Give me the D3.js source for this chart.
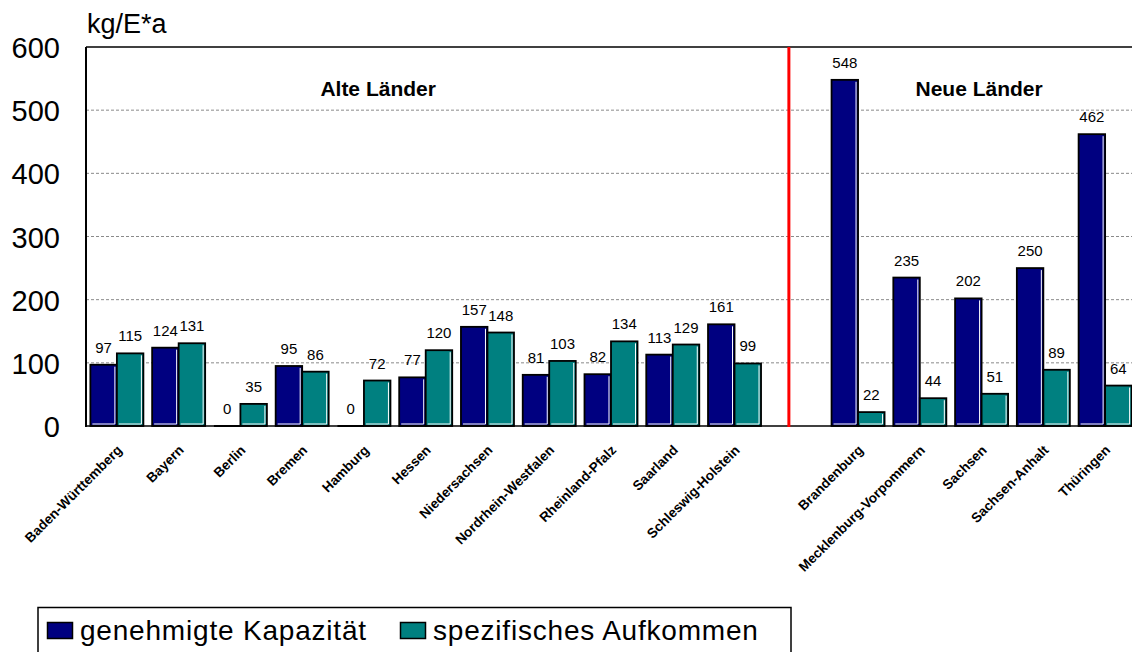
<!DOCTYPE html>
<html>
<head>
    <script src="https://cdn.jsdelivr.net/npm/d3@7"></script>
    <style>
        body { margin: 0; background: #fff; }
        #chart { width: 1132px; height: 652px; display: block; }
        text { font-family: "Liberation Sans", Arial, sans-serif; }
    </style>
</head>
<body>

<svg id="chart"></svg>

<script>
    // data
    const categories = ["Baden-Württemberg", "Bayern", "Berlin", "Bremen", "Hamburg", "Hessen",
        "Niedersachsen", "Nordrhein-Westfalen", "Rheinland-Pfalz", "Saarland", "Schleswig-Holstein",
        "", "Brandenburg", "Mecklenburg-Vorpommern", "Sachsen", "Sachsen-Anhalt", "Thüringen"];
    const kapazitaet = [97, 124, 0, 95, 0, 77, 157, 81, 82, 113, 161, null, 548, 235, 202, 250, 462];
    const aufkommen = [115, 131, 35, 86, 72, 120, 148, 103, 134, 129, 99, null, 22, 44, 51, 89, 64];
    const yTicks = [0, 100, 200, 300, 400, 500, 600];
    const seriesNames = ["genehmigte Kapazität", "spezifisches Aufkommen"];
    const seriesColors = ["#000080", "#008080"];

    const svg = d3.select("#chart");
    const plotLeft = 86, plotTop = 47, plotBottom = 426, plotRight = 1136;

    // keys for band scale (gap slot needs its own key)
    const keys = categories.map((c, i) => c === "" ? "gap" + i : c);

    const x = d3.scaleBand().domain(keys).range([plotLeft, plotRight]).padding(0);
    const xs = d3.scaleBand().domain([0, 1]).range([0, x.bandwidth()]).paddingInner(0).paddingOuter(0.165);
    const y = d3.scaleLinear().domain([0, 600]).range([plotBottom, plotTop]);

    // gridlines
    svg.append("g").selectAll("line")
        .data(yTicks.filter(d => d > 0 && d < 600))
        .join("line")
        .attr("x1", plotLeft).attr("x2", 1132)
        .attr("y1", d => y(d)).attr("y2", d => y(d))
        .attr("stroke", "#8a8a8a")
        .attr("stroke-width", 1)
        .attr("stroke-dasharray", "3,2");

    // frame: top and left
    svg.append("line").attr("x1", plotLeft).attr("x2", 1132).attr("y1", y(600)).attr("y2", y(600))
        .attr("stroke", "#000").attr("stroke-width", 1.5);
    svg.append("line").attr("x1", plotLeft).attr("x2", plotLeft).attr("y1", y(600)).attr("y2", y(0) + 1)
        .attr("stroke", "#000").attr("stroke-width", 2);

    // y tick labels
    svg.append("g").selectAll("text")
        .data(yTicks)
        .join("text")
        .attr("x", 60)
        .attr("y", d => y(d) + 11)
        .attr("text-anchor", "end")
        .attr("font-size", 29)
        .text(d => d);

    svg.append("text")
        .attr("x", 87).attr("y", 33)
        .attr("font-size", 27)
        .text("kg/E*a");

    // bars
    const rows = [];
    categories.forEach((c, i) => {
        [kapazitaet[i], aufkommen[i]].forEach((v, s) => {
            if (v !== null) rows.push({ key: keys[i], s: s, v: v });
        });
    });

    const bars = svg.append("g").selectAll("g")
        .data(rows)
        .join("g")
        .attr("transform", d => `translate(${x(d.key) + xs(d.s)},0)`);

    bars.filter(d => d.v > 0).append("rect")
        .attr("x", 0)
        .attr("y", d => y(d.v))
        .attr("width", xs.bandwidth())
        .attr("height", d => y(0) - y(d.v))
        .attr("fill", d => seriesColors[d.s])
        .attr("stroke", "#000")
        .attr("stroke-width", 1.8);

    // little white highlight inside the right and bottom edge
    bars.filter(d => d.v > 0).append("polyline")
        .attr("points", d => {
            const w = xs.bandwidth();
            return `${w - 2},${y(d.v) + 2} ${w - 2},${y(0) - 2} 2,${y(0) - 2}`;
        })
        .attr("fill", "none")
        .attr("stroke", "#fff")
        .attr("stroke-width", 1);

    bars.filter(d => d.v === 0).append("line")
        .attr("x1", 0).attr("x2", xs.bandwidth())
        .attr("y1", y(0)).attr("y2", y(0))
        .attr("stroke", "#000").attr("stroke-width", 2);

    bars.append("text")
        .attr("x", xs.bandwidth() / 2)
        .attr("y", d => y(d.v) - 12)
        .attr("text-anchor", "middle")
        .attr("font-size", 15)
        .text(d => d.v);

    // baseline
    svg.append("line").attr("x1", plotLeft).attr("x2", 1132).attr("y1", y(0)).attr("y2", y(0))
        .attr("stroke", "#000").attr("stroke-width", 1.5);

    // separator between old and new Länder
    const gapKey = keys[categories.indexOf("")];
    svg.append("line")
        .attr("x1", x(gapKey) + x.bandwidth() * 0.38)
        .attr("x2", x(gapKey) + x.bandwidth() * 0.38)
        .attr("y1", y(600)).attr("y2", y(0) + 1)
        .attr("stroke", "#ff0000").attr("stroke-width", 3);

    // group titles
    svg.append("text")
        .attr("x", x("Hamburg") + x.bandwidth() * 0.73)
        .attr("y", 96)
        .attr("text-anchor", "middle")
        .attr("font-size", 21).attr("font-weight", "bold")
        .text("Alte Länder");
    svg.append("text")
        .attr("x", x("Sachsen") + x.bandwidth() * 0.46)
        .attr("y", 96)
        .attr("text-anchor", "middle")
        .attr("font-size", 21).attr("font-weight", "bold")
        .text("Neue Länder");

    // category labels
    svg.append("g").selectAll("text")
        .data(categories.map((c, i) => ({ c: c, key: keys[i] })).filter(d => d.c !== ""))
        .join("text")
        .attr("transform", d => `translate(${x(d.key) + x.bandwidth() / 2 + 6},451) rotate(-45)`)
        .attr("text-anchor", "end")
        .attr("font-size", 13.6)
        .attr("font-weight", "bold")
        .text(d => d.c);

    // legend
    const legend = svg.append("g");
    legend.append("rect")
        .attr("x", 38).attr("y", 607.5)
        .attr("width", 753).attr("height", 60)
        .attr("fill", "#fff").attr("stroke", "#000").attr("stroke-width", 1.5);

    const legendX = [47, 400];
    const items = legend.selectAll("g.item")
        .data(seriesNames)
        .join("g")
        .attr("class", "item")
        .attr("transform", (d, i) => `translate(${legendX[i]},0)`);
    items.append("rect")
        .attr("x", 0.5).attr("y", 622.5)
        .attr("width", 25).attr("height", 16)
        .attr("fill", (d, i) => seriesColors[i])
        .attr("stroke", "#000").attr("stroke-width", 1.5);
    items.append("text")
        .attr("x", 33).attr("y", 640)
        .attr("font-size", 28)
        .attr("letter-spacing", 0.8)
        .text(d => d);
</script>
</body>
</html>
